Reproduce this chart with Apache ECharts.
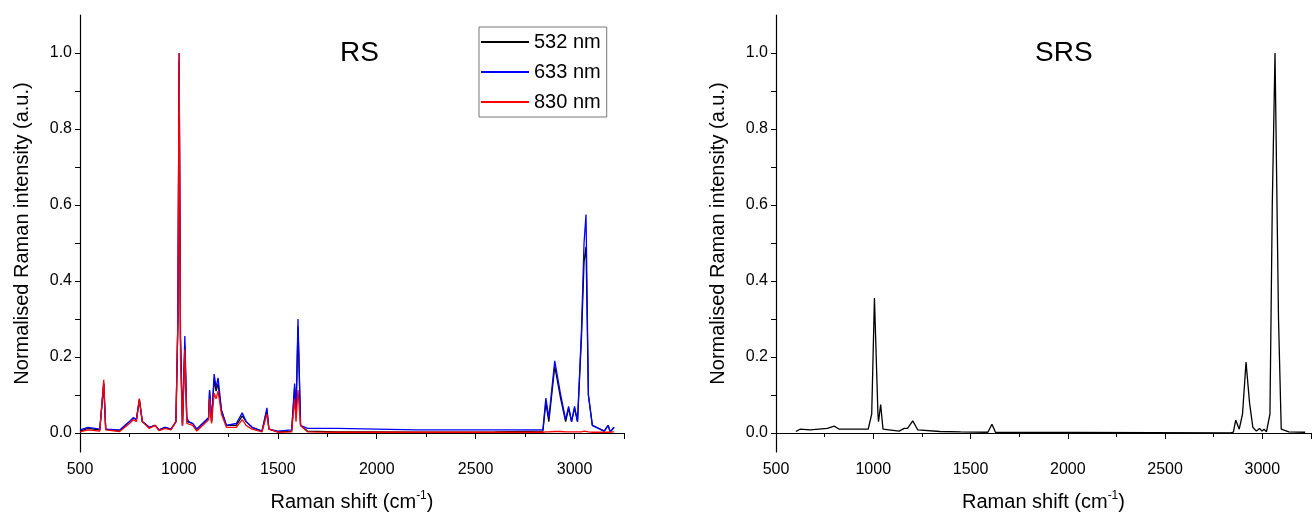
<!DOCTYPE html>
<html>
<head>
<meta charset="utf-8">
<script src="https://cdn.jsdelivr.net/npm/echarts@6/dist/echarts.min.js"></script>
<style>html,body{margin:0;padding:0;background:#fff}#main{width:1314px;height:523px}</style>
</head>
<body>
<div id="main"></div>
<script>
// RS spectra, shared Raman shift grid
const rsShift = [500, 540, 600, 610, 620, 630, 700, 750, 770, 785, 800, 815, 850, 880, 900, 930, 960, 985, 995, 1001, 1008, 1018, 1030, 1040, 1050, 1070, 1090, 1150, 1155, 1165, 1178, 1188, 1198, 1215, 1240, 1290, 1320, 1340, 1370, 1420, 1445, 1455, 1500, 1570, 1585, 1592, 1602, 1615, 1650, 1800, 2000, 2200, 2600, 2840, 2855, 2870, 2900, 2930, 2955, 2970, 2985, 3000, 3015, 3035, 3048, 3058, 3070, 3090, 3150, 3170, 3180, 3200];
const rs532 = [.005, .012, .008, .01, .13, .01, .005, .03, .04, .035, .09, .03, .015, .02, .008, .015, .01, .03, .3, .98, .25, .02, .23, .03, .025, .025, .01, .04, .11, .03, .14, .11, .13, .06, .02, .02, .045, .03, .015, .005, .06, .01, .003, .005, .12, .05, .28, .02, .005, .003, .003, .002, .003, .005, .08, .03, .175, .09, .03, .065, .03, .065, .03, .25, .45, .49, .1, .02, .005, .02, .003, .015];
const rs633 = [.008, .015, .01, .012, .13, .01, .008, .03, .04, .035, .085, .03, .015, .02, .008, .015, .01, .03, .3, 1.0, .25, .02, .255, .04, .03, .025, .01, .04, .113, .03, .155, .12, .145, .06, .02, .025, .053, .03, .015, .005, .066, .01, .005, .008, .13, .05, .3, .02, .012, .012, .01, .008, .008, .008, .092, .04, .19, .1, .035, .07, .03, .07, .03, .27, .5, .575, .1, .02, .005, .02, .003, .015];
const rs830 = [.003, .008, .005, .008, .14, .008, .004, .025, .035, .03, .09, .03, .012, .02, .006, .012, .008, .03, .3, 1.0, .2, .02, .22, .025, .02, .02, .005, .035, .09, .025, .105, .09, .11, .05, .015, .015, .035, .02, .01, .003, .05, .01, .002, .003, .09, .03, .113, .02, .003, .002, .002, .002, .002, .002, .003, .003, .004, .004, .003, .003, .003, .003, .003, .003, .005, .005, .003, .002, .002, .002, .002, .003];

// SRS spectrum
const srsShift = [602, 623, 676, 764, 799, 825, 974, 992, 1006, 1024, 1027, 1038, 1050, 1133, 1159, 1176, 1203, 1229, 1343, 1449, 1589, 1610, 1628, 2837, 2851, 2863, 2881, 2898, 2916, 2934, 2951, 2969, 2986, 2998, 3009, 3021, 3039, 3051, 3065, 3083, 3097, 3136, 3220];
const srsInt = [.004, .01, .008, .012, .018, .01, .01, .05, .355, .05, .03, .075, .01, .005, .012, .012, .032, .008, .004, .003, .002, .023, .002, 0, .002, .034, .01, .05, .187, .08, .015, .005, .012, .005, .01, .003, .05, .6, 1.0, .3, .01, .003, .002];

const yLabels = [0, 0.2, 0.4, 0.6, 0.8, 1.0];
const yTickVals = [0, 0.1, 0.2, 0.3, 0.4, 0.5, 0.6, 0.7, 0.8, 0.9, 1.0];

function pairs(xs, ys) { return xs.map((x, i) => [x, ys[i]]); }

const font = 'Arial, "Liberation Sans", sans-serif';
function xAxis(idx) {
  return {
    type: 'value', gridIndex: idx, min: 500, max: 3250, interval: 500,
    name: 'Raman shift (cm{s|-1})', nameLocation: 'middle', nameGap: 38,
    nameTextStyle: { fontSize: 20, color: '#000', fontFamily: font, rich: { s: { fontSize: 12, verticalAlign: 'top', padding: [0, 0, 12, 0], color: '#000' } } },
    axisLine: { lineStyle: { color: '#000', width: 1.2 } },
    axisTick: { length: 6, lineStyle: { color: '#000' } },
    minorTick: { show: true, splitNumber: 2, length: 4, lineStyle: { color: '#000' } },
    axisLabel: { fontSize: 16, color: '#000', fontFamily: font, margin: 10, showMaxLabel: true,
      formatter: v => (v % 500 === 0 ? String(v) : '') },
    splitLine: { show: false }
  };
}
function yAxis(idx) {
  return {
    type: 'value', gridIndex: idx, min: -0.05, max: 1.1,
    name: 'Normalised Raman intensity (a.u.)', nameLocation: 'middle', nameGap: 48,
    nameTextStyle: { fontSize: 20, color: '#000', fontFamily: font },
    axisLine: { show: true, lineStyle: { color: '#000', width: 1.2 } },
    axisTick: { show: true, length: 5, lineStyle: { color: '#000' }, customValues: yTickVals },
    minorTick: { show: false },
    axisLabel: { fontSize: 16, color: '#000', fontFamily: font, customValues: yLabels, formatter: v => v.toFixed(1) },
    splitLine: { show: false }
  };
}
function line(name, data, color, xi, yi) {
  return { name: name, type: 'line', xAxisIndex: xi, yAxisIndex: yi, data: data, showSymbol: false, symbol: 'none',
    lineStyle: { color: color, width: 1.3 }, itemStyle: { color: color }, animation: false };
}

const chart = echarts.init(document.getElementById('main'));
chart.setOption({
  animation: false,
  grid: [
    { left: 80, right: 690, top: 15, bottom: 71 },
    { left: 776, right: -7, top: 15, bottom: 71 }
  ],
  title: [
    { text: 'RS', left: 335, top: 34, textStyle: { fontSize: 28, fontWeight: 'normal', color: '#000', fontFamily: font } },
    { text: 'SRS', left: 1030, top: 34, textStyle: { fontSize: 28, fontWeight: 'normal', color: '#000', fontFamily: font } }
  ],
  legend: {
    data: ['532 nm', '633 nm', '830 nm'], orient: 'vertical', left: 479, top: 27,
    itemWidth: 48, itemHeight: 2, itemGap: 10, padding: [5, 6, 5, 2],
    borderColor: '#777', borderWidth: 1, icon: 'rect',
    textStyle: { fontSize: 20, color: '#000', fontFamily: font }
  },
  xAxis: [xAxis(0), xAxis(1)],
  yAxis: [yAxis(0), yAxis(1)],
  series: [
    line('532 nm', pairs(rsShift, rs532), '#000000', 0, 0),
    line('633 nm', pairs(rsShift, rs633), '#0000ff', 0, 0),
    line('830 nm', pairs(rsShift, rs830), '#ff0000', 0, 0),
    line('SRS', pairs(srsShift, srsInt), '#000000', 1, 1)
  ]
});
</script>
</body>
</html>
